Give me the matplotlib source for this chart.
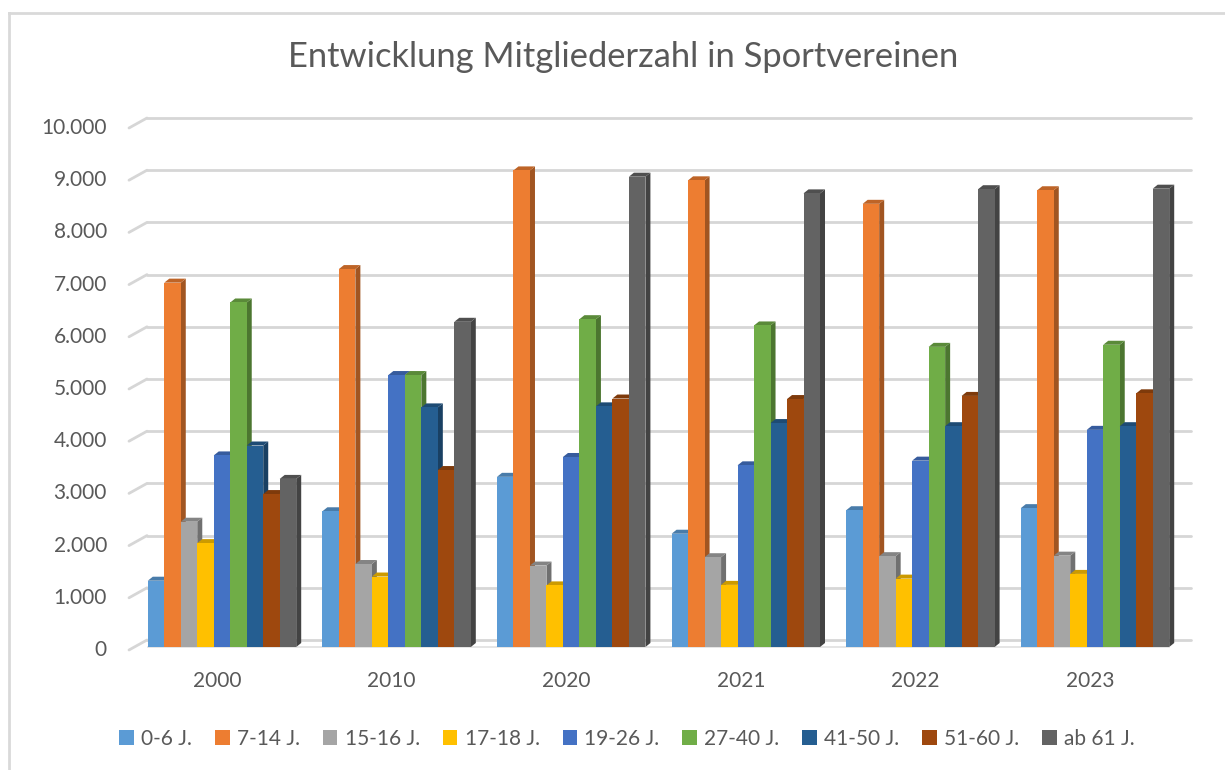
import matplotlib
matplotlib.use("Agg")
import matplotlib.pyplot as plt
from matplotlib.patches import Polygon, Patch
from matplotlib.transforms import offset_copy

plt.rcParams['font.family'] = ['Lato', 'DejaVu Sans']

# ---- Daten ----
jahre = ["2000", "2010", "2020", "2021", "2022", "2023"]
gruppen = ["0-6 J.", "7-14 J.", "15-16 J.", "17-18 J.", "19-26 J.",
           "27-40 J.", "41-50 J.", "51-60 J.", "ab 61 J."]

g_0_6   = [1270, 2600, 3260, 2170, 2620, 2660]
g_7_14  = [6980, 7240, 9130, 8940, 8490, 8750]
g_15_16 = [2400, 1590, 1560, 1720, 1740, 1750]
g_17_18 = [1990, 1350, 1180, 1190, 1310, 1400]
g_19_26 = [3670, 5210, 3640, 3480, 3570, 4160]
g_27_40 = [6600, 5210, 6280, 6160, 5750, 5790]
g_41_50 = [3860, 4590, 4610, 4290, 4230, 4230]
g_51_60 = [2930, 3390, 4760, 4750, 4810, 4860]
g_ab_61 = [3220, 6230, 9010, 8690, 8770, 8780]

werte = [g_0_6, g_7_14, g_15_16, g_17_18, g_19_26,
         g_27_40, g_41_50, g_51_60, g_ab_61]
farben = ["#5B9BD5", "#ED7D31", "#A5A5A5", "#FFC000", "#4472C4",
          "#70AD47", "#255E91", "#9E480E", "#636363"]

W, H = 1225, 770
fig = plt.figure(figsize=(W / 100, H / 100), dpi=100)
fig.patch.set_facecolor("white")

# Rahmen des Diagramms (nur links / oben sichtbar)
fig.add_artist(plt.Line2D([8.5 / W, 8.5 / W], [0, 1 - 12.5 / H],
                          color="#d9d9d9", lw=2, transform=fig.transFigure))
fig.add_artist(plt.Line2D([8.5 / W, 1], [1 - 12.5 / H, 1 - 12.5 / H],
                          color="#d9d9d9", lw=2, transform=fig.transFigure))

# Achse
x0, x1, ytop, ybot = 134.7, 1182.3, 125, 647
ax = fig.add_axes([x0 / W, 1 - ybot / H, (x1 - x0) / W, (ybot - ytop) / H])
ax.set_xlim(-0.5, len(jahre) - 0.5)
ax.set_ylim(0, 10000)
for s in ax.spines.values():
    s.set_visible(False)
ax.set_xticks([])
ax.set_yticks([])

px_x = (x1 - x0) / len(jahre)          # Pixel pro Kategorie
px_y = (ybot - ytop) / 10000           # Pixel pro Einheit

gruppe_breite = 0.85
bw = gruppe_breite / len(gruppen)
dx = 5 / px_x                          # Tiefe des 3D-Effekts
dy = 4 / px_y

# Gitterlinien (3D-Rückwand)
back = offset_copy(ax.transData, fig, x=0, y=7, units="dots")
gx_stub = (129 - (x0 + px_x / 2)) / px_x
gx_back0 = (147 - (x0 + px_x / 2)) / px_x
gx_back1 = (1191 - (x0 + px_x / 2)) / px_x
ticks = list(range(0, 10001, 1000))
for v in ticks:
    ax.plot([gx_back0, gx_back1], [v, v], color="#d6d6d6", lw=2.0,
            transform=back, clip_on=False, zorder=1, solid_capstyle="round")
    # schraeger Stummel vorne links
    y_front = v - 3 / px_y
    y_back = v + 7 / px_y
    ax.plot([gx_stub, gx_back0], [y_front, y_back], color="#d6d6d6", lw=2.0,
            clip_on=False, zorder=1, solid_capstyle="round")
    ax.text(gx_stub, v, f"{v:,}".replace(",", "."), transform=offset_copy(
        ax.transData, fig, x=-22, y=-3, units="dots"),
        ha="right", va="center", fontsize=15, color="#595959")

# Boden-Kante
ax.plot([-gruppe_breite / 2, len(jahre) - 1 + gruppe_breite / 2], [0, 0],
        color="#e0e0e0", lw=1.2, zorder=1.5, clip_on=False)


def dunkler(c, f):
    r, g, b = matplotlib.colors.to_rgb(c)
    return (r * f, g * f, b * f)


# Balken mit 3D-Effekt
for i, (vals, col) in enumerate(zip(werte, farben)):
    xs = [k - gruppe_breite / 2 + i * bw for k in range(len(jahre))]
    z = 2 + i * 0.1
    ax.bar(xs, vals, width=bw, align="edge", color=col, zorder=z + 0.05)
    for x, v in zip(xs, vals):
        seite = Polygon([(x + bw, 0), (x + bw + dx, dy), (x + bw + dx, v + dy),
                         (x + bw, v)], closed=True, color=dunkler(col, 0.68),
                        zorder=z, lw=0)
        oben = Polygon([(x, v), (x + dx, v + dy), (x + bw + dx, v + dy),
                        (x + bw, v)], closed=True, color=dunkler(col, 0.8),
                       zorder=z, lw=0)
        ax.add_patch(seite)
        ax.add_patch(oben)

# Kategorien
for k, j in enumerate(jahre):
    ax.text(k, 0, j, transform=offset_copy(ax.transData, fig, x=-5, y=-34,
                                           units="dots"),
            ha="center", va="center", fontsize=15, color="#595959")

# Titel
fig.text(623 / W, 1 - 57 / H, "Entwicklung Mitgliederzahl in Sportvereinen",
         ha="center", va="center", fontsize=24.8, color="#595959")

# Legende
handles = [Patch(facecolor=c, edgecolor="none") for c in farben]
fig.legend(handles, gruppen, loc="center", ncol=9,
           bbox_to_anchor=(627 / W, 1 - 739 / H), frameon=False,
           handlelength=0.7, handleheight=0.7, handletextpad=0.35,
           columnspacing=1.1, fontsize=15, labelcolor="#595959")

fig.savefig("out.png", dpi=100)
